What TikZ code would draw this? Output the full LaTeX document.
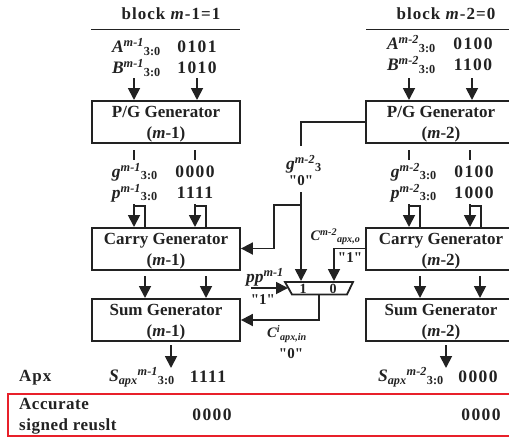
\documentclass[tikz,border=0pt]{standalone}
\usepackage{fontspec}
\setmainfont{Liberation Serif}
\newfontfamily\plainqf{Liberation Serif}
\usetikzlibrary{arrows.meta}
\definecolor{ink}{HTML}{222222}
\definecolor{redbox}{HTML}{E8202A}
\newcommand{\qt}[1]{{\plainqf\bfseries "#1"}}
\newcommand{\lowi}[1]{\textsubscript{\normalfont\bfseries #1}}
\newcommand{\toppad}{\rule{0pt}{16pt}}
\tikzset{
 x=1pt,y=-1pt,
 every node/.style={font=\bfseries\fontsize{17}{20}\selectfont,text=ink,inner sep=0pt},
 lbl/.style={font=\bfseries\itshape\fontsize{17.5}{20}\selectfont,text=ink,inner sep=0pt},
 lblsmall/.style={font=\bfseries\itshape\fontsize{14.5}{18}\selectfont,text=ink,inner sep=0pt},
 val/.style={font=\bfseries\fontsize{17.5}{20}\selectfont\addfontfeature{LetterSpace=8},text=ink,inner sep=0pt},
 head/.style={font=\bfseries\fontsize{17}{20}\selectfont\addfontfeature{LetterSpace=6},text=ink,inner sep=0pt},
 small/.style={font=\bfseries\fontsize{15}{17}\selectfont,text=ink,inner sep=0pt},
 blockbox/.style={draw=ink,line width=1.8pt,minimum height=42pt,align=center,inner sep=0pt,font=\bfseries\fontsize{17}{20.5}\selectfont,text=ink},
 wire/.style={draw=ink,line width=1.8pt},
 arr/.style={wire,-{Triangle[length=12pt,width=12pt]}},
}
\begin{document}
\begin{tikzpicture}
\useasboundingbox (0,0) rectangle (509,440);
\clip (0,0) rectangle (509,440);
% headers
\node[head] (h1) at (171,14) {block \textit{m}-1=1};
\node[head] (h2) at (446,14) {block \textit{m}-2=0};
\coordinate (r1a) at (91,29.5); \coordinate (r1b) at (240,29.5);
\coordinate (r2a) at (366,29.5); \coordinate (r2b) at (509,29.5);
\draw[wire] (r1a) -- (r1b);
\draw[wire] (r2a) -- (r2b);
% boxes
\node[blockbox,minimum width=148pt] (pg1) at (166,122) {\toppad P/G Generator\\(\textit{m}-1)};
\node[blockbox,minimum width=148pt] (cg1) at (166,249) {\toppad Carry Generator\\(\textit{m}-1)};
\node[blockbox,minimum width=148pt] (sg1) at (166,320) {\toppad Sum Generator\\(\textit{m}-1)};
\node[blockbox,minimum width=150pt] (pg2) at (441,122) {\toppad P/G Generator\\(\textit{m}-2)};
\node[blockbox,minimum width=150pt] (cg2) at (441,249) {\toppad Carry Generator\\(\textit{m}-2)};
\node[blockbox,minimum width=150pt] (sg2) at (441,320) {\toppad Sum Generator\\(\textit{m}-2)};
% left labels
\node[lbl,anchor=east] (a1) at (161,47) {A\textsuperscript{m-1}\lowi{3:0}};
\node[lbl,anchor=east] (b1) at (161,68) {B\textsuperscript{m-1}\lowi{3:0}};
\node[val] (av1) at (197,47) {0101};
\node[val] (bv1) at (197,68) {1010};
\node[lbl,anchor=east] (g1) at (158,172) {g\textsuperscript{m-1}\lowi{3:0}};
\node[lbl,anchor=east] (p1) at (158,193) {p\textsuperscript{m-1}\lowi{3:0}};
\node[val] (gv1) at (195,172) {0000};
\node[val] (pv1) at (195,193) {1111};
% right labels
\node[lbl,anchor=east] (a2) at (436,44) {A\textsuperscript{m-2}\lowi{3:0}};
\node[lbl,anchor=east] (b2) at (436,65) {B\textsuperscript{m-2}\lowi{3:0}};
\node[val] (av2) at (473,44) {0100};
\node[val] (bv2) at (473,65) {1100};
\node[lbl,anchor=east] (g2) at (437,172) {g\textsuperscript{m-2}\lowi{3:0}};
\node[lbl,anchor=east] (p2) at (437,193) {p\textsuperscript{m-2}\lowi{3:0}};
\node[val] (gv2) at (474,172) {0100};
\node[val] (pv2) at (474,193) {1000};
% wires
\foreach \n/\x in {1/134,2/197,3/409,4/472}{
  \coordinate (in\n) at (\x,78); \coordinate (inb\n) at (\x,100);
  \draw[arr] (in\n) -- (inb\n);
}
\foreach \n/\x in {1/134,2/195,3/409,4/470}{
  \coordinate (st\n) at (\x,150); \coordinate (stb\n) at (\x,160);
  \draw[wire] (st\n) -- (stb\n);
  \coordinate (dn\n) at (\x,204); \coordinate (dnb\n) at (\x,227);
  \draw[arr] (dn\n) -- (dnb\n);
  \coordinate (b1\n) at (\x,206); \coordinate (b2\n) at ({\x+11},206); \coordinate (b3\n) at ({\x+11},227);
  \draw[wire] (b1\n) -- (b2\n) -- (b3\n);
}
\foreach \n/\x in {1/145,2/206,3/420,4/480}{
  \coordinate (cs\n) at (\x,276); \coordinate (csb\n) at (\x,298);
  \draw[arr] (cs\n) -- (csb\n);
}
\coordinate (o1) at (171,345); \coordinate (o1b) at (171,368);
\draw[arr] (o1) -- (o1b);
\coordinate (o2) at (446,345); \coordinate (o2b) at (446,368);
\draw[arr] (o2) -- (o2b);
% mux
\coordinate (m1) at (285,282); \coordinate (m2) at (353,282); \coordinate (m3) at (347,294.5); \coordinate (m4) at (292,294.5);
\draw[wire,line join=miter] (m1) -- (m2) -- (m3) -- (m4) -- cycle;
\node[font=\bfseries\fontsize{14}{16}\selectfont] (m1t) at (303,289) {1};
\node[font=\bfseries\fontsize{14}{16}\selectfont] (m0t) at (333,289) {0};
% g wire
\coordinate (gw1) at (301,146); \coordinate (gw2) at (301,122);
\draw[wire] (gw1) -- (gw2) -- (pg2.west |- gw2);
\node[lbl] (gm) at (304,164) {g\textsuperscript{m-2}\lowi{3}};
\node[small] (gq) at (301,181) {\qt{0}};
\coordinate (gs) at (301,192); \coordinate (gm1) at (301,281);
\draw[arr] (gs) -- (gm1);
\coordinate (gt) at (301,205); \coordinate (gt2) at (274,205); \coordinate (gt3) at (274,248.5);
\draw[arr] (gt) -- (gt2) -- (gt3) -- (cg1.east |- gt3);
% carry wire
\coordinate (cw) at (334,248.5); \coordinate (cw2) at (334,281);
\draw[arr] (cg2.west |- cw) -- (cw) -- (cw2);
\node[lblsmall] (cm) at (335.5,237) {C\textsuperscript{m-2}\textsubscript{apx,o}};
\node[small] (cq) at (350,258) {\qt{1}};
% pp
\coordinate (pp0) at (251,288); \coordinate (pp1) at (288,288);
\draw[arr] (pp0) -- (pp1);
\node[lbl] (pp) at (265,277) {pp\textsuperscript{m-1}};
\node[small] (ppq) at (263,300) {\qt{1}};
% mux out
\coordinate (mo) at (319,295); \coordinate (mo2) at (319,320);
\draw[arr] (mo) -- (mo2) -- (sg1.east |- mo2);
\node[lblsmall] (ci) at (287,334) {C\textsuperscript{i}\textsubscript{apx,in}};
\node[small] (ciq) at (291,354) {\qt{0}};
% bottom
\node[anchor=west,head] (apx) at (19,378) {Apx};
\node[lbl,anchor=east] (s1) at (175,377) {S\textsubscript{apx}\textsuperscript{m-1}\lowi{3:0}};
\node[val] (s1v) at (208,377) {1111};
\node[lbl,anchor=east] (s2) at (444,377) {S\textsubscript{apx}\textsuperscript{m-2}\lowi{3:0}};
\node[val] (s2v) at (478,377) {0000};
\draw[draw=redbox,line width=2pt] (8,393.5) rectangle (515,435.5);
\node[anchor=west,align=left,font=\bfseries\fontsize{17}{21}\selectfont\addfontfeature{LetterSpace=3}] (acc) at (19,416) {Accurate\\signed reuslt};
\node[val] (av) at (212,415) {0000};
\node[val] (bv) at (481,415) {0000};
\end{tikzpicture}
\end{document}
